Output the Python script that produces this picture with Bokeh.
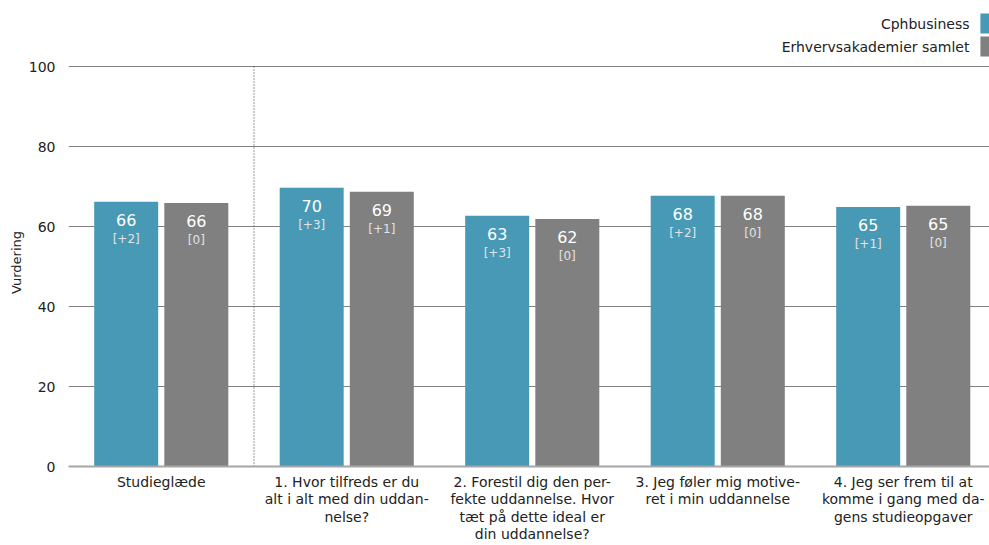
from bokeh.plotting import figure
from bokeh.layouts import column
from bokeh.models import Range1d, FixedTicker, ColumnDataSource
from bokeh.core.properties import value
from bokeh.embed import file_html
from bokeh.resources import INLINE

categories = ["Studieglæde",
              "1. Hvor tilfreds er du\nalt i alt med din uddan-\nnelse?",
              "2. Forestil dig den per-\nfekte uddannelse. Hvor\ntæt på dette ideal er\ndin uddannelse?",
              "3. Jeg føler mig motive-\nret i min uddannelse",
              "4. Jeg ser frem til at\nkomme i gang med da-\ngens studieopgaver"]
series_names = ["Cphbusiness", "Erhvervsakademier samlet"]
cph_values = [66.2, 69.7, 62.7, 67.7, 64.9]
eak_values = [65.9, 68.7, 61.9, 67.7, 65.2]
cph_labels = ["66", "70", "63", "68", "65"]
eak_labels = ["66", "69", "62", "68", "65"]
cph_changes = ["[+2]", "[+3]", "[+3]", "[+2]", "[+1]"]
eak_changes = ["[0]", "[+1]", "[0]", "[0]", "[0]"]
y_ticks = [0, 20, 40, 60, 80, 100]

TEAL = "#4899b5"
GREY = "#808080"
FONT = "DejaVu Sans"
TXT = "#222222"

n = len(categories)
centers = [i + 0.5 for i in range(n)]
dodge = 0.189
bw = 0.345
XEND = 4.965

# ---------- legend strip ----------
leg = figure(width=989, height=58, output_backend="svg", toolbar_location=None,
             x_range=Range1d(0, XEND), y_range=Range1d(0, 58),
             min_border_left=68, min_border_right=0, min_border_top=0, min_border_bottom=0)
leg.axis.visible = False
leg.grid.grid_line_color = None
leg.outline_line_color = None
leg_top = [45, 22]
leg_bot = [25, 2]
leg.quad(left=[4.916, 4.916], right=[5.0, 5.0], top=leg_top, bottom=leg_bot,
         fill_color=[TEAL, GREY], line_color=None)
leg.text(x=[4.857, 4.857], y=[35, 12], text=series_names, text_align="right",
         text_baseline="middle", text_color=TXT, text_font=value(FONT), text_font_size="14px")

# ---------- main chart ----------
p = figure(width=989, height=487, output_backend="svg", toolbar_location=None,
           x_range=Range1d(0, XEND), y_range=Range1d(0, 102),
           min_border_left=68, min_border_top=0, min_border_right=0, min_border_bottom=0)
p.outline_line_color = None

src_c = ColumnDataSource(dict(x=[c - dodge for c in centers], top=cph_values, lab=cph_labels, ch=cph_changes))
src_e = ColumnDataSource(dict(x=[c + dodge for c in centers], top=eak_values, lab=eak_labels, ch=eak_changes))
p.vbar(x="x", top="top", width=bw, bottom=0, source=src_c, fill_color=TEAL, line_color=None)
p.vbar(x="x", top="top", width=bw, bottom=0, source=src_e, fill_color=GREY, line_color=None)

for src in (src_c, src_e):
    p.text(x="x", y="top", text="lab", source=src, text_color="white", text_align="center",
           text_baseline="middle", y_offset=18, text_font=value(FONT), text_font_size="16px")
    p.text(x="x", y="top", text="ch", source=src, text_color="#e3e3e3", text_align="center",
           text_baseline="middle", y_offset=37, text_font=value(FONT), text_font_size="12px")

p.segment(x0=[1.0], y0=[0], x1=[1.0], y1=[100], line_color="#333333", line_width=1, line_dash="1 2")

p.yaxis.ticker = FixedTicker(ticks=y_ticks)
p.yaxis.axis_line_color = None
p.yaxis.major_tick_line_color = None
p.yaxis.minor_tick_line_color = None
p.yaxis.major_label_standoff = 7
p.yaxis.major_label_text_font = FONT
p.yaxis.major_label_text_font_size = "14px"
p.yaxis.major_label_text_color = TXT
p.yaxis.axis_label = "Vurdering"
p.yaxis.axis_label_standoff = 2
p.yaxis.axis_label_text_font = FONT
p.yaxis.axis_label_text_font_style = "normal"
p.yaxis.axis_label_text_font_size = "13px"
p.yaxis.axis_label_text_color = TXT

p.xaxis.ticker = FixedTicker(ticks=centers)
p.xaxis.major_label_overrides = {c: lab for c, lab in zip(centers, categories)}
p.xaxis.axis_line_color = "#a6a6a6"
p.xaxis.axis_line_width = 2
p.xaxis.major_tick_line_color = None
p.xaxis.minor_tick_line_color = None
p.xaxis.major_label_standoff = 1
p.xaxis.major_label_text_font = FONT
p.xaxis.major_label_text_font_size = "14px"
p.xaxis.major_label_text_color = TXT
p.xaxis.major_label_text_line_height = 1.1

p.xgrid.grid_line_color = None
p.ygrid.ticker = FixedTicker(ticks=y_ticks)
p.ygrid.grid_line_color = "#808080"
p.ygrid.grid_line_width = 1

layout = column(leg, p, spacing=0)
open("out.html", "w").write(file_html(layout, INLINE))
